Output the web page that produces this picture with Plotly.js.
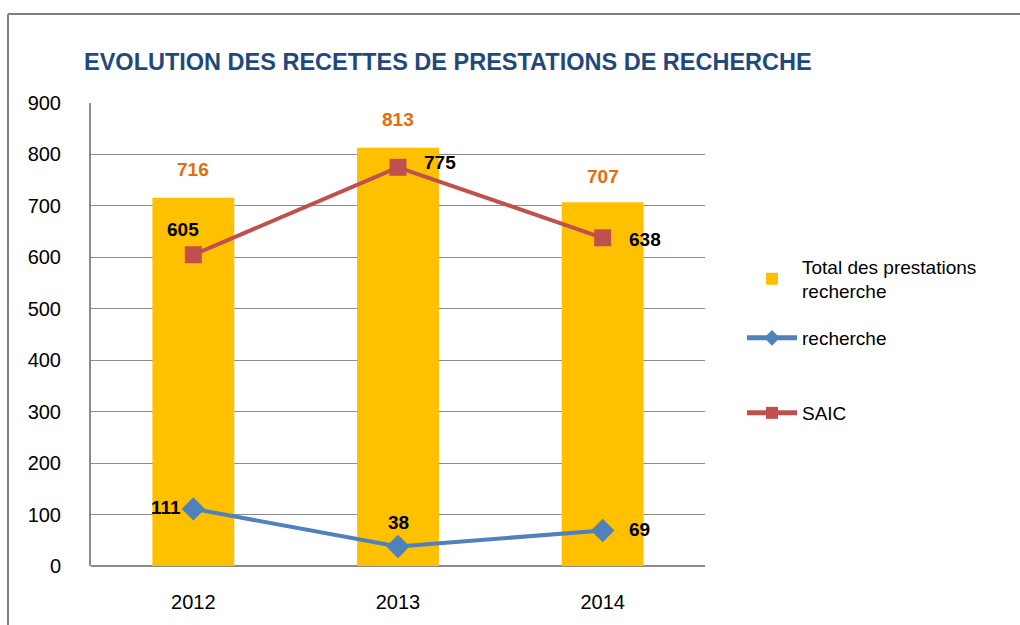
<!DOCTYPE html>
<html><head><meta charset="utf-8">
<script src="https://cdn.plot.ly/plotly-3.0.1.min.js"></script>
<style>html,body{margin:0;padding:0;background:#fff}#chart{width:1020px;height:625px}</style>
</head><body><div id="chart"></div>
<script>
const years = ['2012', '2013', '2014'];
const totalValues = [716, 813, 707];
const rechercheValues = [111, 38, 69];
const saicValues = [605, 775, 638];
const yTicks = [0, 100, 200, 300, 400, 500, 600, 700, 800, 900];

const totalName = 'Total des prestations<br>recherche';
const rechercheName = 'recherche';
const saicName = 'SAIC';
const titleText = 'EVOLUTION DES RECETTES DE PRESTATIONS DE RECHERCHE';

// label offsets (px) relative to the data point
const totalShift = [[0, 28], [0, 28], [0, 26]];
const rechercheShift = [[-27, 1], [0, 24], [37, 1]];
const saicShift = [[-10, 25], [42, 5], [42, -2]];

const font = 'Liberation Sans, Arial, sans-serif';

const traces = [
  {type: 'bar', x: years, y: totalValues, name: totalName, marker: {color: '#FFC000'},
   width: 0.4, legend: 'legend', hoverinfo: 'none'},
  {type: 'scatter', mode: 'lines+markers', x: years, y: rechercheValues, name: rechercheName,
   line: {color: '#4F81BD', width: 4}, marker: {symbol: 'diamond', size: 18, color: '#4F81BD'},
   legend: 'legend2', hoverinfo: 'none'},
  {type: 'scatter', mode: 'lines+markers', x: years, y: saicValues, name: saicName,
   line: {color: '#C0504D', width: 4}, marker: {symbol: 'square', size: 17, color: '#C0504D'},
   legend: 'legend3', hoverinfo: 'none'}
];

const annotations = [];
function addLabels(vals, shifts, color) {
  vals.forEach((v, i) => annotations.push({
    x: i, y: v, xref: 'x', yref: 'y', text: String(v), showarrow: false,
    xshift: shifts[i][0], yshift: shifts[i][1], xanchor: 'center', yanchor: 'middle',
    font: {family: font, size: 19, color: color, weight: 'bold'}
  }));
}
addLabels(totalValues, totalShift, '#E46C0A');
addLabels(rechercheValues, rechercheShift, '#000000');
addLabels(saicValues, saicShift, '#000000');

const W = 1020, H = 625, L = 91, R = 315, T = 103, B = 59;
const pw = W - L - R, ph = H - T - B;
const px = v => (v - L) / pw;
const py = v => (H - B - v) / ph;

const legendCommon = {font: {family: font, size: 19, color: '#000'}, bgcolor: 'rgba(0,0,0,0)',
  xanchor: 'left', yanchor: 'middle', itemwidth: 50, traceorder: 'normal', itemsizing: 'constant'};

const layout = {
  width: W, height: H,
  margin: {l: L, r: R, t: T, b: B},
  paper_bgcolor: '#fff', plot_bgcolor: '#fff',
  title: {text: '<b>' + titleText + '</b>', font: {family: font, size: 23.5, color: '#1F497D'},
          x: 84 / W, xanchor: 'left', y: 1 - 62 / H, yanchor: 'middle', xref: 'container', yref: 'container'},
  xaxis: {type: 'category', range: [-0.5, 2.5], showgrid: false, showline: false, zeroline: false,
          tickfont: {family: font, size: 20, color: '#000'}, ticks: '', ticklabelstandoff: 22},
  yaxis: {range: [0, 900], tickvals: yTicks, showgrid: true, gridcolor: '#8C8C8C', gridwidth: 1,
          zeroline: true, zerolinecolor: '#8C8C8C', zerolinewidth: 1.5, showline: true, linecolor: '#8C8C8C', linewidth: 2,
          tickfont: {family: font, size: 20, color: '#000'}, ticks: '', ticklabelstandoff: 24},
  showlegend: true,
  legend: Object.assign({}, legendCommon, {x: px(742), y: py(279)}),
  legend2: Object.assign({}, legendCommon, {x: px(742), y: py(338)}),
  legend3: Object.assign({}, legendCommon, {x: px(742), y: py(413)}),
  annotations: annotations,
  shapes: [
    {type: 'line', xref: 'paper', yref: 'paper', x0: px(8), x1: px(8), y0: py(14), y1: py(630),
     line: {color: '#808080', width: 2}},
    {type: 'line', xref: 'paper', yref: 'paper', x0: px(8), x1: px(1025), y0: py(14), y1: py(14),
     line: {color: '#808080', width: 2}}
  ]
};

Plotly.newPlot('chart', traces, layout, {displayModeBar: false, staticPlot: true});
</script></body></html>
